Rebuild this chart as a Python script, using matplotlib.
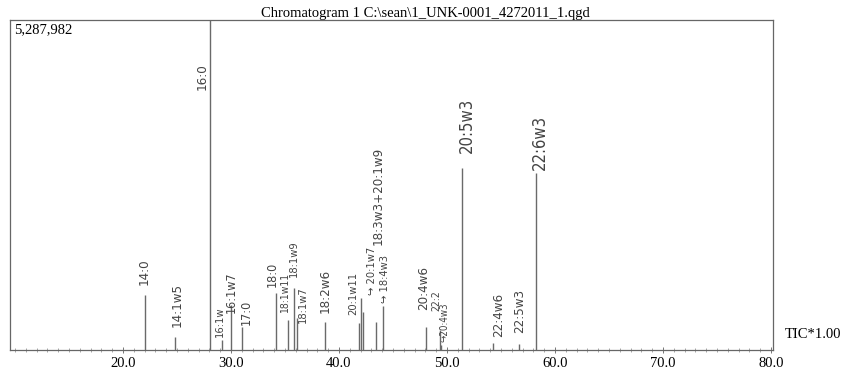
import matplotlib
matplotlib.use('Agg')
import matplotlib.pyplot as plt
from matplotlib.ticker import MultipleLocator, FormatStrFormatter

# peak retention times (min) and intensities (counts)
peak_names = ['14:0', '14:1w5', '16:0', '16:1w', '16:1w7', '17:0', '18:0',
              '18:1w11', '18:1w9', '18:1w7', '18:2w6', '20:1w11',
              '18:3w3+20:1w9', '20:1w7', '', '18:4w3', '20:4w6', '22:2',
              '20:4w3', '20:5w3', '22:4w6', '22:5w3', '22:6w3']
peak_times = [22.04, 24.81, 28.10, 29.14, 29.97, 30.99, 34.17,
              35.25, 35.83, 36.16, 38.70, 41.90,
              42.08, 42.27, 43.43, 44.07, 48.06, 49.35,
              49.49, 51.36, 54.26, 56.67, 58.24]
peak_heights = [881000, 208000, 5287982, 160000, 721000, 369000, 913000,
                481000, 993000, 513000, 449000, 433000,
                833000, 609000, 449000, 700000, 369000, 320000,
                80000, 2916000, 112000, 96000, 2836000]

y_max = 5287982
x_ticks = [20, 30, 40, 50, 60, 70, 80]

# hand-written annotations: text, x, y of the lower end, font size
notes = [
    ('14:0', 21.94, 1042000, 9.5),
    ('14:1w5', 25.0, 369000, 9.5),
    ('16:0', 27.31, 4166000, 9.5),
    ('16:1w', 28.98, 208000, 8),
    ('16:1w7', 30.0, 593000, 9),
    ('17:0', 31.39, 401000, 9),
    ('18:0', 33.80, 1010000, 9),
    ('18:1w11', 35.05, 593000, 7.5),
    ('18:1w9', 35.85, 1170000, 8),
    ('18:1w7', 36.68, 433000, 8),
    ('18:2w6', 38.70, 593000, 9.5),
    ('20:1w11', 41.30, 561000, 8),
    ('18:3w3+20:1w9', 43.65, 1683000, 9.5),
    ('\u21aa 20:1w7', 43.05, 881000, 8),
    ('\u21aa 18:4w3', 44.25, 753000, 8),
    ('20:4w6', 47.80, 641000, 9.5),
    ('22:2', 49.00, 625000, 7.5),
    ('\u21aa20:4w3', 49.75, 128000, 7),
    ('20:5w3', 51.85, 3157000, 12),
    ('22:4w6', 54.81, 208000, 9.5),
    ('22:5w3', 56.76, 272000, 9.5),
    ('22:6w3', 58.61, 2884000, 12),
]

serif = ['Liberation Serif', 'DejaVu Serif']

fig = plt.figure(figsize=(8.51, 3.82), dpi=100)
ax = fig.add_axes([10 / 851, 32 / 382, 763 / 851, 330 / 382])

ax.vlines(peak_times, 0, peak_heights, color='#6a6a6a', lw=1.0)

ax.set_xlim(9.54, 80.19)
ax.set_ylim(0, y_max)
ax.set_yticks([])

ax.xaxis.set_minor_locator(MultipleLocator(1))
ax.set_xticks(x_ticks)
ax.xaxis.set_major_formatter(FormatStrFormatter('%.1f'))
ax.tick_params(axis='x', which='major', length=4, width=0.7, color='#777',
               direction='inout', pad=3, labelsize=10.5)
ax.tick_params(axis='x', which='minor', length=3, width=0.6, color='#999',
               direction='inout')
for lbl in ax.get_xticklabels():
    lbl.set_family(serif)

for s in ax.spines.values():
    s.set_color('#666')
    s.set_linewidth(0.9)

for text, x, y, size in notes:
    ax.text(x, y, text, rotation=90, ha='center', va='bottom',
            fontsize=size, color='#444', family='DejaVu Sans',
            fontstretch='condensed', fontweight='light')

fig.text(425 / 851, (382 - 17) / 382,
         'Chromatogram 1 C:\\sean\\1_UNK-0001_4272011_1.qgd',
         ha='center', va='baseline', fontsize=10.5, family=serif)
fig.text(14 / 851, (382 - 23) / 382, '5,287,982', ha='left', va='top',
         fontsize=10.5, family=serif)
fig.text(785 / 851, (382 - 334) / 382, 'TIC*1.00', ha='left', va='center',
         fontsize=10.5, family=serif)

fig.savefig('out.png', dpi=100, facecolor='white')
